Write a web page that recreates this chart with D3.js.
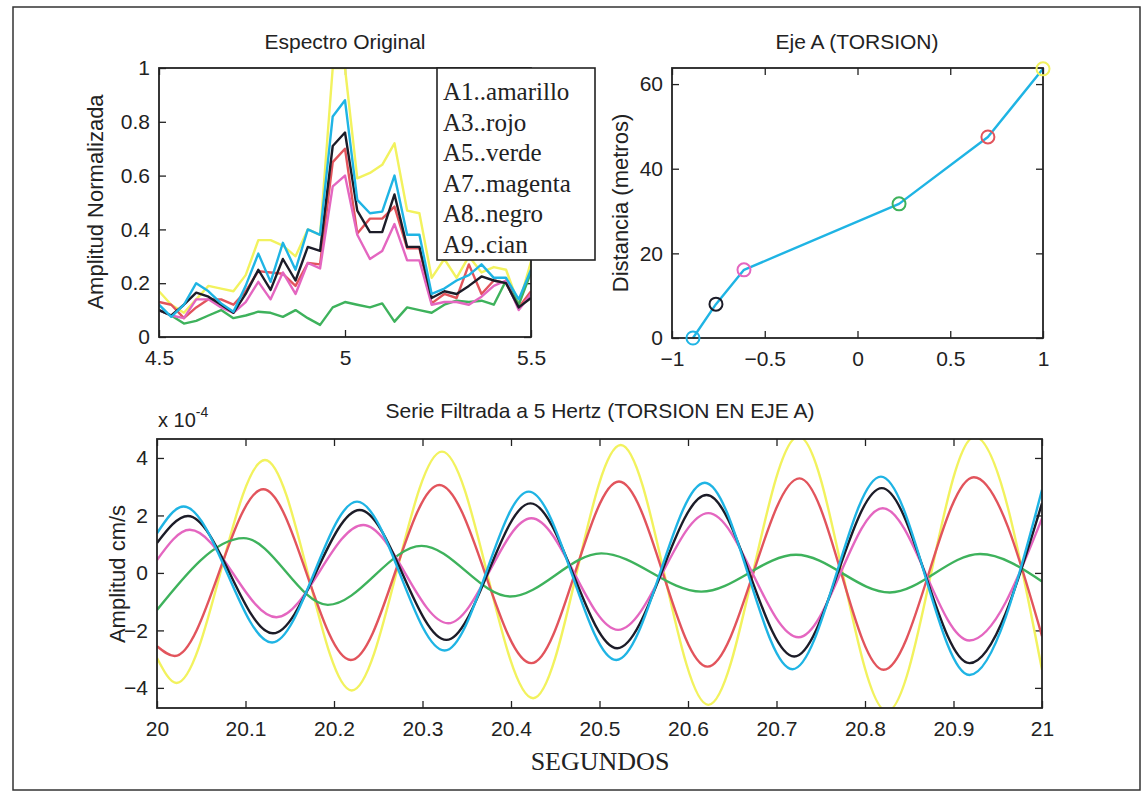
<!DOCTYPE html>
<html><head><meta charset="utf-8">
<script src="https://cdn.jsdelivr.net/npm/d3@7"></script>
<style>
html,body{margin:0;padding:0;background:#fff;}
svg text{font-family:"Liberation Sans",Arial,sans-serif;fill:#222;}
.serif{font-family:"Liberation Serif","Times New Roman",serif !important;}
</style></head><body>
<svg id="fig" width="1145" height="795"></svg>
<script>
// ---------- DATA ----------
const seriesNames = ["A1..amarillo","A3..rojo","A5..verde","A7..magenta","A8..negro","A9..cian"];
const seriesColors = ["#f2f25e","#e2545c","#3eb25c","#e466c0","#1c1c28","#1fb4e4"];

// Espectro Original (frequency in Hz, normalized amplitude)
const specFreq = [4.500,4.533,4.567,4.600,4.633,4.667,4.700,4.733,4.767,4.800,4.833,4.867,4.900,4.933,4.967,5.000,
                  5.033,5.067,5.100,5.133,5.167,5.200,5.233,5.267,5.300,5.333,5.367,5.400,5.433,5.467,5.500];
const specA1 = [0.17,0.12,0.09,0.14,0.19,0.18,0.17,0.23,0.36,0.36,0.34,0.30,0.40,0.38,1.00,1.00,0.59,0.61,0.64,0.72,0.47,0.46,0.22,0.29,0.22,0.30,0.24,0.26,0.25,0.12,0.28];
const specA3 = [0.13,0.12,0.07,0.11,0.14,0.14,0.12,0.17,0.245,0.24,0.235,0.19,0.275,0.27,0.65,0.70,0.385,0.44,0.44,0.485,0.33,0.33,0.125,0.16,0.145,0.27,0.16,0.21,0.20,0.11,0.17];
const specA5 = [0.10,0.08,0.05,0.06,0.08,0.10,0.07,0.08,0.094,0.09,0.075,0.10,0.07,0.045,0.11,0.13,0.12,0.11,0.125,0.057,0.11,0.10,0.09,0.12,0.135,0.13,0.135,0.12,0.21,0.12,0.24];
const specA7 = [0.10,0.08,0.07,0.14,0.14,0.11,0.09,0.13,0.205,0.14,0.24,0.16,0.275,0.255,0.56,0.60,0.38,0.29,0.32,0.42,0.285,0.285,0.12,0.13,0.13,0.12,0.15,0.19,0.21,0.10,0.16];
const specA8 = [0.10,0.08,0.12,0.165,0.15,0.12,0.09,0.16,0.25,0.175,0.29,0.21,0.335,0.32,0.71,0.76,0.47,0.39,0.39,0.53,0.335,0.335,0.145,0.17,0.16,0.19,0.225,0.21,0.20,0.11,0.145];
const specA9 = [0.12,0.075,0.12,0.20,0.17,0.125,0.094,0.19,0.31,0.205,0.35,0.25,0.40,0.38,0.82,0.88,0.51,0.46,0.466,0.60,0.38,0.38,0.16,0.18,0.21,0.23,0.27,0.22,0.22,0.14,0.25];
const specSeries = [specA1,specA3,specA5,specA7,specA8,specA9];
const specXTicks = [4.5,5,5.5];
const specYTicks = [0,0.2,0.4,0.6,0.8,1];

// Eje A (TORSION): phase vs distance
const ejePhase = [-0.887,-0.763,-0.612,0.224,0.703,1.0];
const ejeDist  = [0,8.0,16.1,31.7,47.5,63.6];
const ejeMarkerColors = ["#1fb4e4","#1c1c28","#e466c0","#3eb25c","#e2545c","#f2f25e"];
const ejeXTicks = [-1,-0.5,0,0.5,1];
const ejeYTicks = [0,20,40,60];

// Serie filtrada: key points (seconds, amplitude x1e-4) read at extremes
const filtA1 = [[20,-2.96],[20.022,-3.83],[20.122,3.93],[20.22,-4.09],[20.322,4.22],[20.425,-4.36],[20.524,4.45],[20.623,-4.59],[20.725,4.75],[20.825,-4.82],[20.924,4.74],[21,-3.37]];
const filtA3 = [[20,-2.55],[20.02,-2.89],[20.12,2.91],[20.219,-3.03],[20.319,3.06],[20.423,-3.14],[20.522,3.18],[20.622,-3.26],[20.726,3.29],[20.821,-3.37],[20.923,3.33],[21,-2.2]];
const filtA5 = [[20,-1.29],[20.098,1.21],[20.193,-1.11],[20.299,0.94],[20.399,-0.82],[20.502,0.68],[20.615,-0.65],[20.722,0.63],[20.828,-0.68],[20.93,0.66],[21,-0.30]];
const filtA7 = [[20,0.45],[20.037,1.50],[20.135,-1.54],[20.233,1.67],[20.329,-1.75],[20.423,1.90],[20.521,-1.98],[20.623,2.08],[20.725,-2.24],[20.82,2.25],[20.918,-2.35],[21,1.90]];
const filtA8 = [[20,1.04],[20.035,1.98],[20.131,-2.10],[20.229,2.19],[20.327,-2.33],[20.422,2.42],[20.52,-2.62],[20.621,2.71],[20.72,-2.91],[20.819,2.95],[20.918,-3.14],[21,2.42]];
const filtA9 = [[20,1.38],[20.03,2.31],[20.13,-2.42],[20.226,2.48],[20.325,-2.70],[20.42,2.83],[20.519,-3.03],[20.619,3.14],[20.718,-3.35],[20.818,3.35],[20.918,-3.55],[21,2.89]];
const filtSeries = [filtA1,filtA3,filtA5,filtA7,filtA8,filtA9];
const filtXTicks = [20,20.1,20.2,20.3,20.4,20.5,20.6,20.7,20.8,20.9,21];
const filtYTicks = [-4,-2,0,2,4];

// ---------- DRAW ----------
const svg = d3.select("#fig");
svg.append("rect").attr("width",1145).attr("height",795).attr("fill","#fff");
// outer frame
svg.append("rect").attr("x",13).attr("y",7).attr("width",1127).attr("height",783)
  .attr("fill","none").attr("stroke","#333").attr("stroke-width",1.5);

const TICK = 7, FS = 21;

function makeAxes(g, x, y, xt, yt, xfmt, yfmt, id){
  const [x0,x1] = x.range(), [y0,y1] = y.range();
  g.append("clipPath").attr("id",id).append("rect")
    .attr("x",x0).attr("y",y1).attr("width",x1-x0).attr("height",y0-y1);
  const ax = [
    g.append("g").attr("transform",`translate(0,${y0})`).call(d3.axisBottom(x).tickValues(xt).tickSize(-TICK).tickPadding(13).tickFormat(xfmt)),
    g.append("g").attr("transform",`translate(0,${y1})`).call(d3.axisTop(x).tickValues(xt).tickSize(-TICK).tickFormat("")),
    g.append("g").attr("transform",`translate(${x0},0)`).call(d3.axisLeft(y).tickValues(yt).tickSize(-TICK).tickPadding(9).tickFormat(yfmt)),
    g.append("g").attr("transform",`translate(${x1},0)`).call(d3.axisRight(y).tickValues(yt).tickSize(-TICK).tickFormat(""))
  ];
  ax.forEach(a=>{
    a.select(".domain").remove();
    a.selectAll(".tick line").attr("stroke","#222").attr("stroke-width",1.3);
    a.selectAll(".tick text").attr("font-size",FS).attr("fill","#222")
      .style("font-family","'Liberation Sans',Arial,sans-serif");
  });
}
function drawBox(g,x,y){
  const [x0,x1] = x.range(), [y0,y1] = y.range();
  g.append("rect").attr("x",x0).attr("y",y1).attr("width",x1-x0).attr("height",y0-y1)
    .attr("fill","none").attr("stroke","#222").attr("stroke-width",1.8);
}

// ---- Espectro Original ----
{
  const g = svg.append("g");
  const x = d3.scaleLinear().domain([4.5,5.5]).range([159,531]);
  const y = d3.scaleLinear().domain([0,1]).range([337,68]);
  makeAxes(g,x,y,specXTicks,specYTicks,d3.format("~g"),d3.format("~g"),"clipSpec");
  const line = d3.line().x((d,i)=>x(specFreq[i])).y(d=>y(d));
  const lg = g.append("g").attr("clip-path","url(#clipSpec)");
  specSeries.forEach((s,k)=>{
    lg.append("path").attr("d",line(s)).attr("fill","none")
      .attr("stroke",seriesColors[k]).attr("stroke-width",2.4).attr("stroke-linejoin","round");
  });
  drawBox(g,x,y);
  g.append("text").attr("x",345).attr("y",49).attr("text-anchor","middle").attr("font-size",FS).text("Espectro Original");
  g.append("text").attr("transform","translate(103,202) rotate(-90)").attr("text-anchor","middle")
    .attr("font-size",22).text("Amplitud Normalizada");
}

// ---- Eje A (TORSION) ----
{
  const g = svg.append("g");
  const x = d3.scaleLinear().domain([-1,1]).range([672,1043]);
  const y = d3.scaleLinear().domain([0,63.8]).range([338,68]);
  makeAxes(g,x,y,ejeXTicks,ejeYTicks,d3.format("~g"),d3.format("~g"),"clipEje");
  const line = d3.line().x((d,i)=>x(ejePhase[i])).y(d=>y(d));
  g.append("path").attr("d",line(ejeDist)).attr("fill","none").attr("stroke","#1fb4e4")
    .attr("stroke-width",2.4).attr("stroke-linejoin","round");
  drawBox(g,x,y);
  ejeDist.forEach((d,i)=>{
    g.append("circle").attr("cx",x(ejePhase[i])).attr("cy",y(d)).attr("r",6.5)
      .attr("fill","none").attr("stroke",ejeMarkerColors[i]).attr("stroke-width",2);
  });
  g.append("text").attr("x",857).attr("y",49).attr("text-anchor","middle").attr("font-size",FS).text("Eje A (TORSION)");
  g.append("text").attr("transform","translate(628,203) rotate(-90)").attr("text-anchor","middle")
    .attr("font-size",22).text("Distancia (metros)");
}

// ---- Legend (over the spectrum axes) ----
{
  const lgd = svg.append("g");
  lgd.append("rect").attr("x",437).attr("y",68).attr("width",158).attr("height",192)
    .attr("fill","#fff").attr("stroke","#222").attr("stroke-width",1.6);
  seriesNames.forEach((n,k)=>{
    lgd.append("text").attr("class","serif").attr("x",443).attr("y",100+k*30.6)
      .attr("font-size",25).attr("fill","#111").text(n);
  });
}

// ---- Serie Filtrada ----
{
  const g = svg.append("g");
  const x = d3.scaleLinear().domain([20,21]).range([157,1042]);
  const y = d3.scaleLinear().domain([-4.7,4.66]).range([708,439]);
  makeAxes(g,x,y,filtXTicks,filtYTicks,d3.format("~g"),d3.format("~g"),"clipFilt");
  const line = d3.line().x(d=>x(d[0])).y(d=>y(d[1])).curve(d3.curveMonotoneX);
  const lg = g.append("g").attr("clip-path","url(#clipFilt)");
  filtSeries.forEach((s,k)=>{
    lg.append("path").attr("d",line(s)).attr("fill","none")
      .attr("stroke",seriesColors[k]).attr("stroke-width",2.4);
  });
  drawBox(g,x,y);
  g.append("text").attr("x",600).attr("y",418).attr("text-anchor","middle").attr("font-size",FS)
    .text("Serie Filtrada a 5 Hertz (TORSION EN EJE A)");
  const t = g.append("text").attr("x",158).attr("y",427).attr("font-size",20);
  t.append("tspan").text("x 10");
  t.append("tspan").attr("dy",-10).attr("font-size",14).text("-4");
  g.append("text").attr("transform","translate(125,574) rotate(-90)").attr("text-anchor","middle")
    .attr("font-size",22).text("Amplitud cm/s");
  g.append("text").attr("class","serif").attr("x",600).attr("y",770).attr("text-anchor","middle")
    .attr("font-size",26).attr("fill","#111").text("SEGUNDOS");
}
</script></body></html>
